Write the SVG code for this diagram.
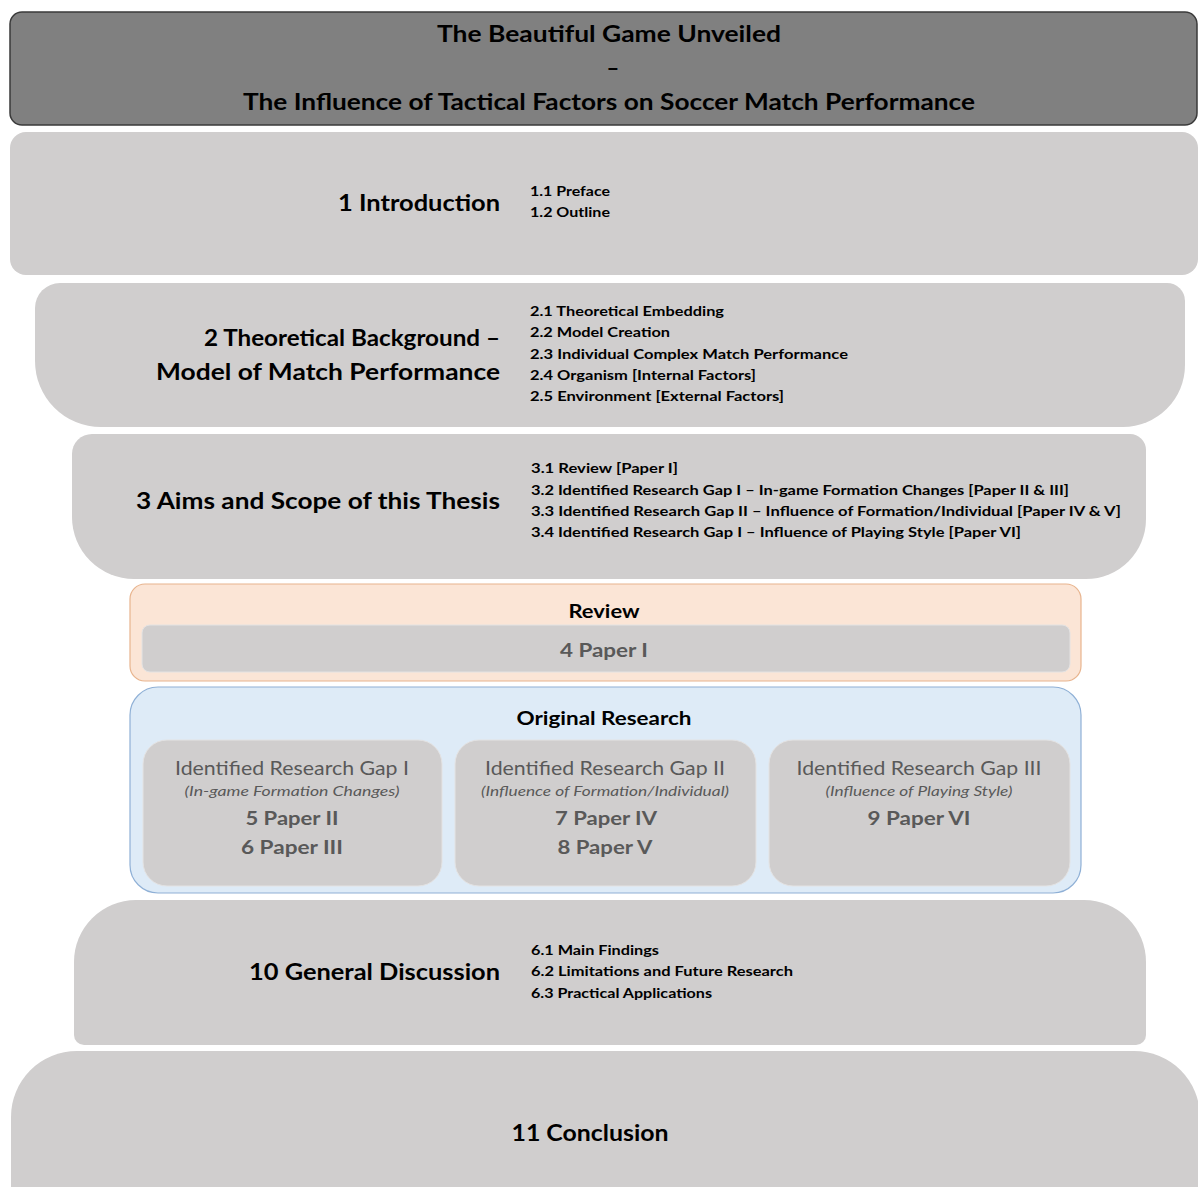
<svg xmlns="http://www.w3.org/2000/svg" width="1198" height="1187" viewBox="0 0 1198 1187">
  <style>
    .chap { fill: #d0cece; }
    .t { font-family: Lato, "Open Sans", "Liberation Sans", sans-serif; fill: #000; }
    .head { font-size: 23.5px; font-weight: 700; }
    .item { font-size: 14px; font-weight: 700; }
    .title { font-size: 22px; font-weight: 700; }
    .gap { font-size: 19px; font-weight: 400; fill: #595959; }
    .sub { font-size: 13px; font-style: italic; fill: #595959; }
    .paper { font-size: 19px; font-weight: 700; fill: #595959; }
    .box { fill: #d0cece; stroke: #e4e3e3; stroke-width: 1; }
  </style>
  <rect width="1198" height="1187" fill="#ffffff"/>

  <!-- title banner -->
  <g id="title">
    <rect x="10" y="12" width="1187" height="113" rx="12" fill="#808080" stroke="#3a3a3a" stroke-width="1.5"/>
    <text class="t title" x="609" y="42" text-anchor="middle" textLength="344" lengthAdjust="spacingAndGlyphs">The Beautiful Game Unveiled</text>
    <text class="t title" x="613" y="76" text-anchor="middle">–</text>
    <text class="t title" x="609" y="110" text-anchor="middle" textLength="732" lengthAdjust="spacingAndGlyphs">The Influence of Tactical Factors on Soccer Match Performance</text>
  </g>

  <!-- chapter 1 -->
  <g id="introduction">
    <rect class="chap" x="10" y="132" width="1188" height="143" rx="16"/>
    <text class="t head" x="500" y="211" text-anchor="end" textLength="162" lengthAdjust="spacingAndGlyphs">1 Introduction</text>
    <text class="t item" x="530" y="196" textLength="80" lengthAdjust="spacingAndGlyphs">1.1 Preface</text>
    <text class="t item" x="530" y="217" textLength="80" lengthAdjust="spacingAndGlyphs">1.2 Outline</text>
  </g>

  <!-- chapter 2 -->
  <g id="background">
    <path class="chap" d="M60 283H1167A18 18 0 0 1 1185 301V365A62 62 0 0 1 1123 427H101A66 66 0 0 1 35 361V308A25 25 0 0 1 60 283Z"/>
    <text class="t head" x="500" y="346" text-anchor="end" textLength="296" lengthAdjust="spacingAndGlyphs">2 Theoretical Background –</text>
    <text class="t head" x="500" y="380" text-anchor="end" textLength="344" lengthAdjust="spacingAndGlyphs">Model of Match Performance</text>
    <text class="t item" x="530" y="316" textLength="194" lengthAdjust="spacingAndGlyphs">2.1 Theoretical Embedding</text>
    <text class="t item" x="530" y="337" textLength="140" lengthAdjust="spacingAndGlyphs">2.2 Model Creation</text>
    <text class="t item" x="530" y="359" textLength="318" lengthAdjust="spacingAndGlyphs">2.3 Individual  Complex Match Performance</text>
    <text class="t item" x="530" y="380" textLength="226" lengthAdjust="spacingAndGlyphs">2.4 Organism [Internal Factors]</text>
    <text class="t item" x="530" y="401" textLength="254" lengthAdjust="spacingAndGlyphs">2.5 Environment [External Factors]</text>
  </g>

  <!-- chapter 3 -->
  <g id="aims">
    <path class="chap" d="M92 434H1130A16 16 0 0 1 1146 450V519A60 60 0 0 1 1086 579H134A62 62 0 0 1 72 517V454A20 20 0 0 1 92 434Z"/>
    <text class="t head" x="500" y="509" text-anchor="end" textLength="364" lengthAdjust="spacingAndGlyphs">3 Aims and Scope of this Thesis</text>
    <text class="t item" x="531" y="473" textLength="147" lengthAdjust="spacingAndGlyphs">3.1 Review [Paper I]</text>
    <text class="t item" x="531" y="495" textLength="538" lengthAdjust="spacingAndGlyphs">3.2 Identified Research Gap I – In-game Formation Changes [Paper II &amp; III]</text>
    <text class="t item" x="531" y="516" textLength="590" lengthAdjust="spacingAndGlyphs">3.3 Identified Research Gap II – Influence of Formation/Individual  [Paper IV &amp; V]</text>
    <text class="t item" x="531" y="537" textLength="490" lengthAdjust="spacingAndGlyphs">3.4 Identified Research Gap I – Influence of Playing Style [Paper VI]</text>
  </g>

  <!-- review block -->
  <g id="review">
    <rect x="130" y="584" width="951" height="97" rx="15" fill="#fbe5d6" stroke="#e8b48e" stroke-width="1.2"/>
    <text class="t" x="604" y="618" text-anchor="middle" font-size="19" font-weight="700" textLength="71" lengthAdjust="spacingAndGlyphs">Review</text>
    <rect class="box" x="142" y="625" width="928" height="47" rx="8"/>
    <text class="t paper" x="604" y="657" text-anchor="middle" textLength="88" lengthAdjust="spacingAndGlyphs">4 Paper I</text>
  </g>

  <!-- original research block -->
  <g id="original-research">
    <rect x="130" y="687" width="951" height="206" rx="28" fill="#deebf7" stroke="#8fb0d6" stroke-width="1.2"/>
    <text class="t" x="604" y="725" text-anchor="middle" font-size="19" font-weight="700" textLength="175" lengthAdjust="spacingAndGlyphs">Original Research</text>
  </g>

  <g id="gap-1">
    <rect class="box" x="143" y="740" width="299" height="146" rx="24"/>
    <text class="t gap" x="292" y="775" text-anchor="middle" textLength="234" lengthAdjust="spacingAndGlyphs">Identified Research Gap I</text>
    <text class="t sub" x="292" y="796" text-anchor="middle" textLength="215" lengthAdjust="spacingAndGlyphs">(In-game Formation Changes)</text>
    <text class="t paper" x="292" y="825" text-anchor="middle" textLength="93" lengthAdjust="spacingAndGlyphs">5 Paper II</text>
    <text class="t paper" x="292" y="854" text-anchor="middle" textLength="102" lengthAdjust="spacingAndGlyphs">6 Paper III</text>
  </g>

  <g id="gap-2">
    <rect class="box" x="455" y="740" width="301" height="146" rx="24"/>
    <text class="t gap" x="605" y="775" text-anchor="middle" textLength="240" lengthAdjust="spacingAndGlyphs">Identified Research Gap II</text>
    <text class="t sub" x="605" y="796" text-anchor="middle" textLength="248" lengthAdjust="spacingAndGlyphs">(Influence of Formation/Individual)</text>
    <text class="t paper" x="606" y="825" text-anchor="middle" textLength="102" lengthAdjust="spacingAndGlyphs">7 Paper IV</text>
    <text class="t paper" x="605" y="854" text-anchor="middle" textLength="95" lengthAdjust="spacingAndGlyphs">8 Paper V</text>
  </g>

  <g id="gap-3">
    <rect class="box" x="769" y="740" width="301" height="146" rx="24"/>
    <text class="t gap" x="919" y="775" text-anchor="middle" textLength="245" lengthAdjust="spacingAndGlyphs">Identified Research Gap III</text>
    <text class="t sub" x="919" y="796" text-anchor="middle" textLength="187" lengthAdjust="spacingAndGlyphs">(Influence of Playing Style)</text>
    <text class="t paper" x="919" y="825" text-anchor="middle" textLength="103" lengthAdjust="spacingAndGlyphs">9 Paper VI</text>
  </g>

  <!-- chapter 10 -->
  <g id="discussion">
    <path class="chap" d="M136 900H1084A62 62 0 0 1 1146 962V1035A10 10 0 0 1 1136 1045H84A10 10 0 0 1 74 1035V962A62 62 0 0 1 136 900Z"/>
    <text class="t head" x="500" y="980" text-anchor="end" textLength="251" lengthAdjust="spacingAndGlyphs">10 General Discussion</text>
    <text class="t item" x="531" y="955" textLength="128" lengthAdjust="spacingAndGlyphs">6.1 Main Findings</text>
    <text class="t item" x="531" y="976" textLength="262" lengthAdjust="spacingAndGlyphs">6.2 Limitations and Future Research</text>
    <text class="t item" x="531" y="998" textLength="181" lengthAdjust="spacingAndGlyphs">6.3 Practical Applications</text>
  </g>

  <!-- chapter 11 -->
  <g id="conclusion">
    <path class="chap" d="M77 1051H1134A66 66 0 0 1 1200 1117V1200H11V1117A66 66 0 0 1 77 1051Z"/>
    <text class="t head" x="590" y="1141" text-anchor="middle" textLength="157" lengthAdjust="spacingAndGlyphs">11 Conclusion</text>
  </g>

  <!-- no connectors in this layout -->
  <g id="connectors"/>
</svg>
